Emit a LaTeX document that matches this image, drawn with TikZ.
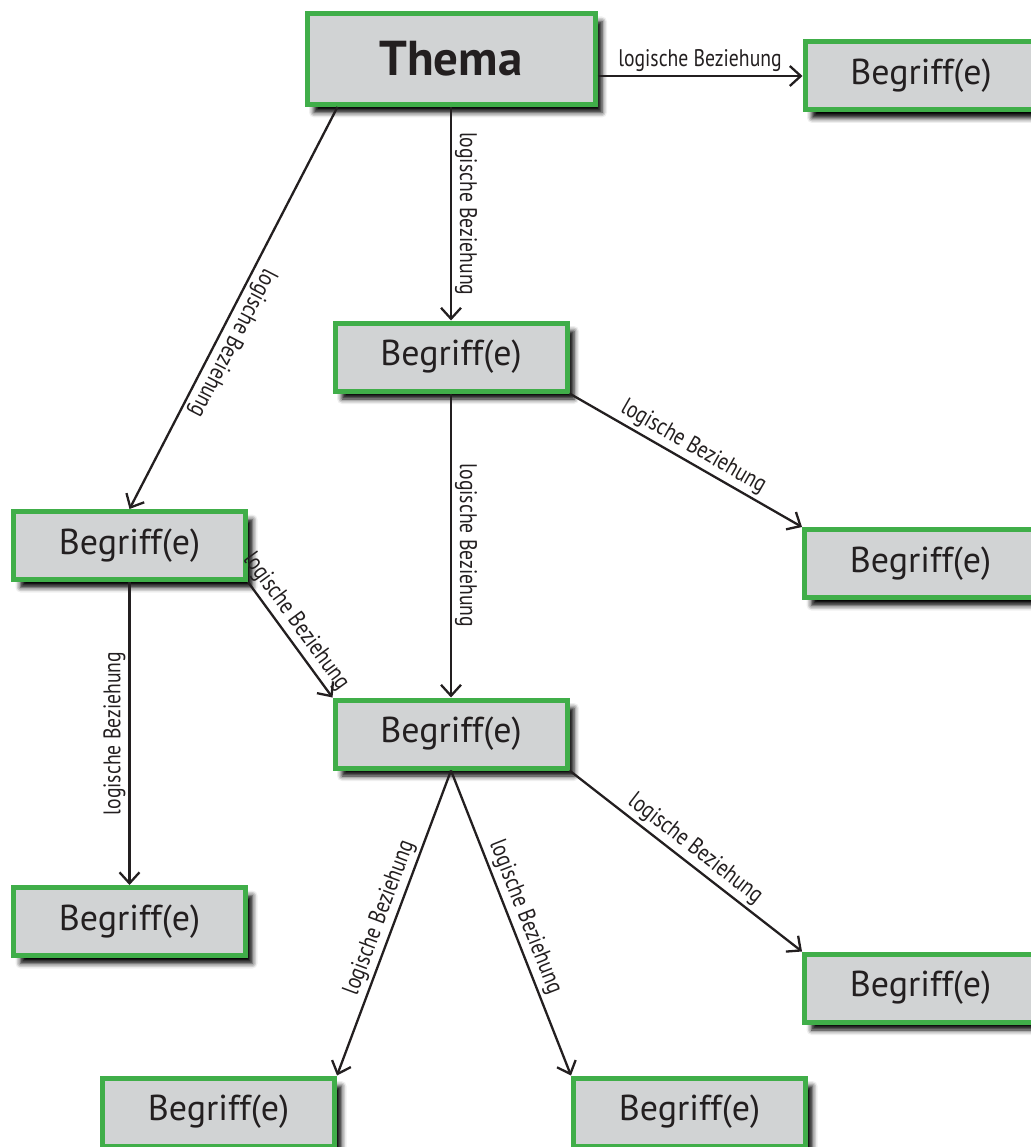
\documentclass[tikz,border=0pt]{standalone}
\usepackage{fontspec}
\setmainfont{PT Sans}
\newfontfamily\narrowfont[FakeStretch=0.82]{PT Sans}
\usetikzlibrary{positioning,arrows.meta,shadows.blur}
\definecolor{boxgreen}{RGB}{64,174,73}
\definecolor{boxgray}{RGB}{209,211,212}
\definecolor{inkgray}{RGB}{35,31,32}

\begin{document}
\begin{tikzpicture}[>={Straight Barb[length=11pt,width=20pt]}, line width=2.3pt, on grid,
    begriff/.style={draw=boxgreen, line width=5pt, fill=boxgray, minimum width=232pt, minimum height=68pt,
        font=\fontsize{36}{40}\selectfont, text=inkgray,
        blur shadow={shadow xshift=7pt, shadow yshift=-8pt, shadow blur radius=5pt, shadow opacity=100}},
    thema/.style={begriff, minimum width=288pt, minimum height=91pt, font=\fontsize{49}{54}\selectfont\bfseries},
    rel/.style={font=\narrowfont\fontsize{24}{26}\selectfont, text=inkgray, sloped, above, inner sep=3pt}]
    \useasboundingbox (0,0) rectangle (1030pt,-1147pt);
    \node[thema] (thema) at (451pt,-59pt) {Thema};
    \node[begriff, below right=17pt and 470pt of thema] (tr) {Begriff(e)};
    \node[begriff, below=298pt of thema] (b1) {Begriff(e)};
    \node[begriff, below left=188.5pt and 321.5pt of b1] (b2) {Begriff(e)};
    \node[begriff, below right=206.5pt and 469.5pt of b1] (b3) {Begriff(e)};
    \node[begriff, below=377pt of b1] (b4) {Begriff(e)};
    \node[begriff, below=376pt of b2] (b5) {Begriff(e)};
    \node[begriff, below right=254pt and 469.5pt of b4] (b6) {Begriff(e)};
    \node[begriff, below left=378pt and 232.5pt of b4] (b7) {Begriff(e)};
    \node[begriff, below right=378pt and 238.5pt of b4] (b8) {Begriff(e)};
    \path[->, color=inkgray]
    (thema.east |- tr.west) edge node[rel] {logische Beziehung} (tr.west)
    (thema.south) edge node[rel, allow upside down] {logische Beziehung} (b1.north)
    ([xshift=33pt]thema.south west) edge node[rel, allow upside down, pos=0.57] {logische Beziehung} (b2.north)
    (b1.south) edge node[rel, allow upside down] {logische Beziehung} (b4.north)
    (b1.south east) edge node[rel] {logische Beziehung} (b3.north west)
    (b2.south) edge node[rel, allow upside down, rotate=180] {logische Beziehung} (b5.north)
    (b2.south east) edge node[rel, pos=0.42] {logische Beziehung} (b4.north west)
    (b4.south) edge node[rel] {logische Beziehung} (b7.north east)
    (b4.south) edge node[rel] {logische Beziehung} (b8.north west)
    (b4.south east) edge node[rel] {logische Beziehung} (b6.north west);
\end{tikzpicture}
\end{document}
